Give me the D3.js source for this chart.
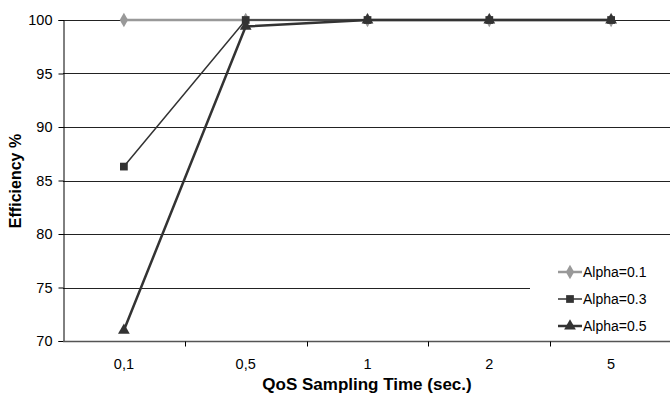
<!DOCTYPE html>
<html>
<head>
<meta charset="utf-8">
<script src="https://cdn.jsdelivr.net/npm/d3@7"></script>
<style>
  body { margin: 0; background: #fff; }
  svg { display: block; font-family: "Liberation Sans", Arial, sans-serif; }
</style>
</head>
<body>
<svg id="chart" width="670" height="394"></svg>
<script>
// data
var categories = ["0,1", "0,5", "1", "2", "5"];
var alpha01 = [100, 100, 100, 100, 100];
var alpha03 = [86.3, 100, 100, 100, 100];
var alpha05 = [71, 99.4, 100, 100, 100];
var yTicks = [70, 75, 80, 85, 90, 95, 100];
var seriesNames = ["Alpha=0.1", "Alpha=0.3", "Alpha=0.5"];

var margin = {top: 20, right: -2, bottom: 53, left: 63},
    width = 670 - margin.left - margin.right,
    height = 394 - margin.top - margin.bottom;

var svg = d3.select("#chart");
var g = svg.append("g")
    .attr("transform", "translate(" + margin.left + "," + margin.top + ")");

var x = d3.scaleBand().domain(categories).range([0, width]);
var y = d3.scaleLinear().domain([70, 100]).range([height, 0]);

// legend box geometry (gridlines stop under it)
var legendLeft = 467, legendTop = 232;

// gridlines
g.selectAll("line.grid")
    .data(yTicks.slice(1))
    .enter().append("line")
    .attr("class", "grid")
    .attr("x1", 0)
    .attr("x2", function(d) { return y(d) > legendTop ? legendLeft : width; })
    .attr("y1", function(d) { return Math.round(y(d)) + 0.5; })
    .attr("y2", function(d) { return Math.round(y(d)) + 0.5; })
    .attr("stroke", "#222")
    .attr("stroke-width", 1);

// y axis
var yAxis = g.append("g")
    .attr("transform", "translate(0.5,0)")
    .call(d3.axisLeft(y).tickValues(yTicks).tickSize(5).tickPadding(6));
yAxis.select(".domain").attr("stroke", "#000");
yAxis.selectAll(".tick line").attr("stroke", "#000");
yAxis.selectAll("text").attr("font-size", "14.5px").attr("fill", "#000")
    .attr("font-family", "Liberation Sans, Arial, sans-serif");

// x axis with ticks between categories
var xAxis = g.append("g")
    .attr("transform", "translate(0," + (Math.round(height) + 0.5) + ")");
xAxis.append("line")
    .attr("x1", 0).attr("x2", width)
    .attr("stroke", "#555").attr("stroke-width", 1.5);
xAxis.selectAll("line.tk")
    .data(categories.slice(1))
    .enter().append("line")
    .attr("class", "tk")
    .attr("x1", function(d) { return Math.round(x(d)) + 0.5; })
    .attr("x2", function(d) { return Math.round(x(d)) + 0.5; })
    .attr("y1", 0).attr("y2", 5)
    .attr("stroke", "#000");
xAxis.selectAll("text")
    .data(categories)
    .enter().append("text")
    .attr("x", function(d) { return x(d) + x.bandwidth() / 2; })
    .attr("y", 27)
    .attr("text-anchor", "middle")
    .attr("font-size", "14.5px")
    .text(function(d) { return d; });

// axis titles
svg.append("text")
    .attr("x", 367).attr("y", 390)
    .attr("text-anchor", "middle")
    .attr("font-size", "17px").attr("font-weight", "bold")
    .text("QoS Sampling Time (sec.)");
svg.append("text")
    .attr("transform", "translate(21,181) rotate(-90)")
    .attr("text-anchor", "middle")
    .attr("font-size", "16px").attr("font-weight", "bold")
    .text("Efficiency %");

var line = d3.line()
    .x(function(d, i) { return x(categories[i]) + x.bandwidth() / 2; })
    .y(function(d) { return y(d); });

var series = [
    {name: seriesNames[0], values: alpha01, color: "#999", width: 2.5, symbol: d3.symbolDiamond, size: 60},
    {name: seriesNames[1], values: alpha03, color: "#333", width: 1.5, symbol: d3.symbolSquare, size: 60},
    {name: seriesNames[2], values: alpha05, color: "#333", width: 2.5, symbol: d3.symbolTriangle, size: 60}
];

series.forEach(function(s) {
    g.append("path")
        .datum(s.values)
        .attr("fill", "none")
        .attr("stroke", s.color)
        .attr("stroke-width", s.width)
        .attr("d", line);
    g.selectAll(null)
        .data(s.values)
        .enter().append("path")
        .attr("transform", function(d, i) {
            return "translate(" + (x(categories[i]) + x.bandwidth() / 2) + "," + y(d) + ")";
        })
        .attr("d", d3.symbol().type(s.symbol).size(s.size))
        .attr("fill", s.color);
});

// legend
var legend = g.append("g");
series.forEach(function(s, i) {
    var ly = 252 + i * 27;
    legend.append("line")
        .attr("x1", 495).attr("x2", 519)
        .attr("y1", ly).attr("y2", ly)
        .attr("stroke", s.color).attr("stroke-width", s.width);
    legend.append("path")
        .attr("transform", "translate(507," + ly + ")")
        .attr("d", d3.symbol().type(s.symbol).size(s.size))
        .attr("fill", s.color);
    legend.append("text")
        .attr("x", 520).attr("y", ly + 5)
        .attr("font-size", "14px")
        .text(s.name);
});
</script>
</body>
</html>
